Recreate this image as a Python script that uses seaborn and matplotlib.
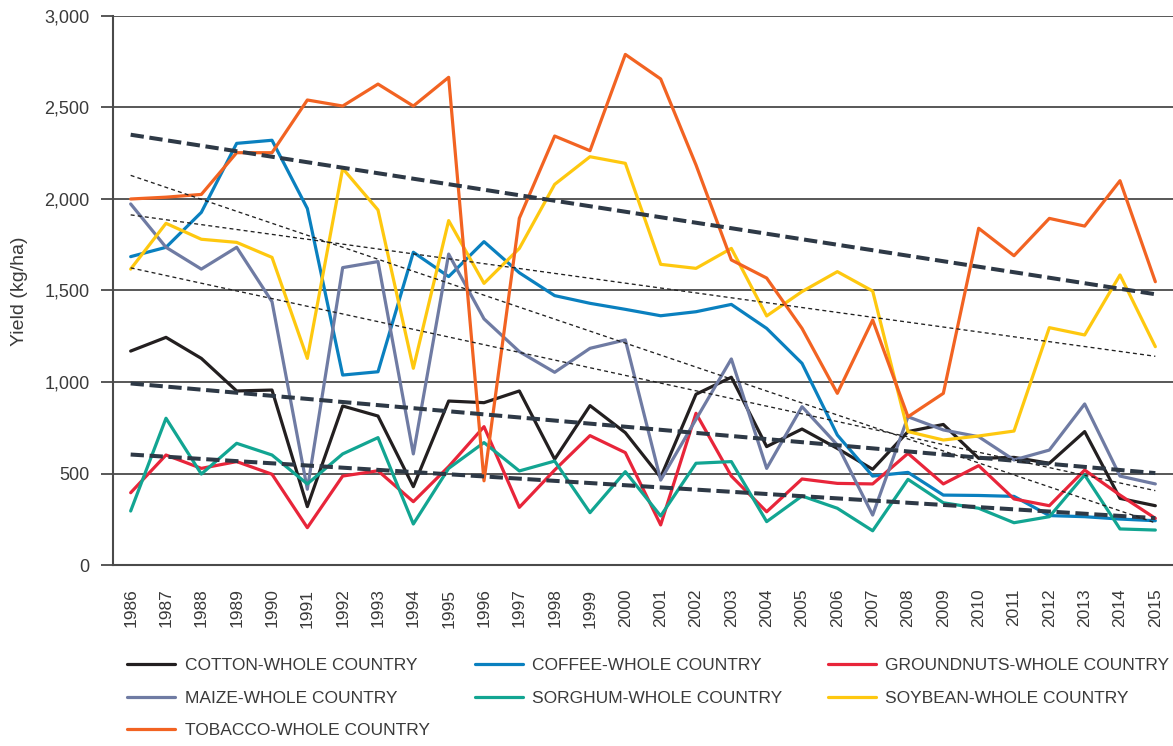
import numpy as np
import pandas as pd
import seaborn as sns
import matplotlib.pyplot as plt

years = list(range(1986, 2016))

cotton = [1169, 1244, 1129, 951, 956, 319, 869, 814, 428, 896, 887, 951, 578, 871, 723,
          479, 933, 1026, 647, 743, 637, 523, 729, 768, 583, 588, 556, 729, 364, 324]
coffee = [1685, 1736, 1927, 2304, 2321, 1948, 1038, 1056, 1709, 1576, 1767, 1597, 1472, 1430, 1397,
          1362, 1384, 1424, 1293, 1102, 710, 486, 506, 382, 380, 375, 270, 264, 251, 242]
groundnuts = [395, 601, 528, 565, 496, 204, 486, 515, 346, 538, 756, 315, 519, 707, 614,
              219, 829, 486, 291, 470, 446, 443, 610, 443, 543, 361, 324, 519, 382, 255]
maize = [1973, 1736, 1617, 1736, 1439, 414, 1625, 1658, 607, 1699, 1345, 1166, 1053, 1184, 1230,
         464, 796, 1126, 528, 865, 656, 273, 810, 738, 701, 574, 628, 880, 486, 443]
sorghum = [295, 802, 497, 665, 601, 443, 607, 696, 224, 528, 669, 514, 568, 286, 510,
           268, 556, 565, 237, 377, 310, 187, 468, 340, 310, 231, 264, 492, 197, 191]
soybean = [1617, 1867, 1780, 1763, 1681, 1129, 2167, 1940, 1075, 1882, 1539, 1730, 2080, 2231, 2195,
           1643, 1621, 1730, 1361, 1494, 1603, 1497, 729, 683, 705, 732, 1297, 1257, 1585, 1193]
tobacco = [2000, 2010, 2025, 2253, 2253, 2541, 2508, 2628, 2508, 2665, 460, 1895, 2344, 2264, 2790,
           2656, 2186, 1667, 1568, 1293, 938, 1339, 810, 938, 1840, 1690, 1894, 1852, 2100, 1548]

names = ["COTTON-WHOLE COUNTRY", "COFFEE-WHOLE COUNTRY", "GROUNDNUTS-WHOLE COUNTRY",
         "MAIZE-WHOLE COUNTRY", "SORGHUM-WHOLE COUNTRY", "SOYBEAN-WHOLE COUNTRY",
         "TOBACCO-WHOLE COUNTRY"]
colors = ["#231f20", "#0a80bf", "#e8253a", "#6f7ba3", "#12a592", "#fec80f", "#f26322"]

# trend lines: thick dashed and thin dashed
thick_trend = ["TOBACCO-WHOLE COUNTRY", "COTTON-WHOLE COUNTRY", "SORGHUM-WHOLE COUNTRY"]
thin_trend = ["COFFEE-WHOLE COUNTRY", "SOYBEAN-WHOLE COUNTRY", "MAIZE-WHOLE COUNTRY"]

yticks = [0, 500, 1000, 1500, 2000, 2500, 3000]
ytick_labels = ["0", "500", "1,000", "1,500", "2,000", "2,500", "3,000"]

wide = pd.DataFrame({"Year": years, names[0]: cotton, names[1]: coffee, names[2]: groundnuts,
                     names[3]: maize, names[4]: sorghum, names[5]: soybean, names[6]: tobacco})
df = wide.melt(id_vars="Year", var_name="Crop", value_name="Yield")

sns.set_style("white")
plt.rcParams["font.family"] = ["Liberation Sans", "DejaVu Sans"]

W, H = 1173, 746
fig = plt.figure(figsize=(W / 100, H / 100), dpi=100)
ax = fig.add_axes([113 / W, 1 - 565 / H, (W - 113) / W, (565 - 16) / H])

grid_col = "#4a4a4a"
txt_col = "#3a3a3a"
ax.set_axisbelow(True)
ax.yaxis.grid(True, color=grid_col, lw=1.3)

sns.lineplot(data=df, x="Year", y="Yield", hue="Crop", hue_order=names,
             palette=dict(zip(names, colors)), linewidth=2.3, ax=ax)

trend_col = "#2e3946"
for n in thick_trend:
    sns.regplot(data=df[df["Crop"] == n], x="Year", y="Yield", scatter=False, ci=None,
                color=trend_col, line_kws=dict(lw=2.9, dashes=(3.3, 1.4)), ax=ax)
for n in thin_trend:
    sns.regplot(data=df[df["Crop"] == n], x="Year", y="Yield", scatter=False, ci=None,
                color="#222222", line_kws=dict(lw=0.95, dashes=(3.0, 2.4)), ax=ax)

ax.set_xlim(1985.5, 2015.5)
ax.set_ylim(0, 3000)
ax.set_yticks(yticks)
ax.set_yticklabels(ytick_labels, fontsize=13, color=txt_col)
ax.set_xticks(years)
ax.set_xticklabels([str(y) for y in years], rotation=90, fontsize=12.5, color=txt_col)
ax.set_xticks(np.arange(1985.5, 2015.6, 1), minor=True)
ax.tick_params(axis="x", which="major", length=0, pad=17)
ax.tick_params(axis="x", which="minor", length=9, width=1.3, color=grid_col, direction="out")
ax.tick_params(axis="y", length=9, width=1.3, color=grid_col, direction="out", pad=8, left=True)
ax.set_xlabel("")
ax.set_ylabel("")
for s in ["top", "right"]:
    ax.spines[s].set_visible(False)
for s in ["left", "bottom"]:
    ax.spines[s].set_color(grid_col)
    ax.spines[s].set_linewidth(1.5)

fig.text(20 / W, 1 - 291 / H, "Yield (kg/ha)", rotation=90, ha="center", va="center",
         fontsize=14, color=txt_col)

handles, labels = ax.get_legend_handles_labels()
ax.get_legend().remove()
lookup = dict(zip(labels, handles))
leg_order = [names[0], names[3], names[6], names[1], names[4], names[2], names[5]]
fig.legend([lookup[n] for n in leg_order], leg_order, ncol=3, loc="upper left",
           bbox_to_anchor=(127 / W, 1 - 658 / H), frameon=False, fontsize=12.5,
           handlelength=2.75, handletextpad=0.57, labelspacing=1.0, columnspacing=2.6,
           borderpad=0, borderaxespad=0, labelcolor=txt_col)

fig.savefig("out.png", dpi=100)
